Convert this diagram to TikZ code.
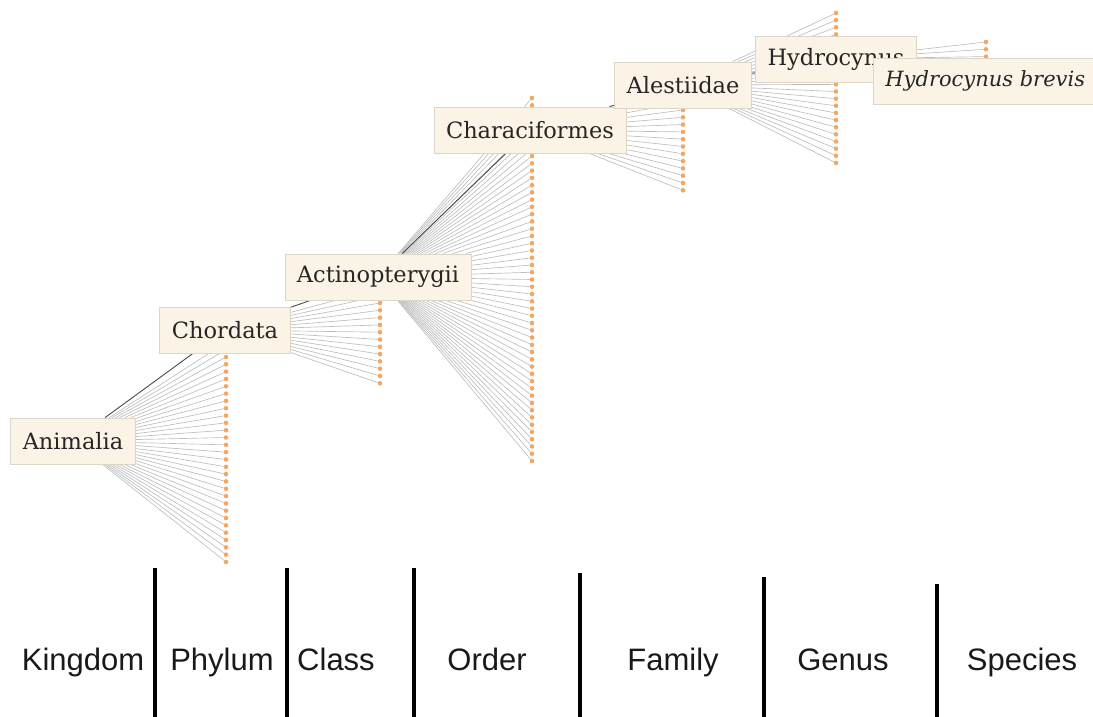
\documentclass[tikz,border=0pt]{standalone}
\usepackage{fontspec}
\setmainfont{DejaVu Serif}
\newfontfamily\rankfont{Liberation Sans}

\definecolor{boxfill}{HTML}{FAF3E6}
\definecolor{boxline}{HTML}{DDD5C6}
\definecolor{dotfill}{HTML}{F4A664}
\definecolor{fanline}{HTML}{BDBDBD}
\definecolor{linkline}{HTML}{4A4A4A}

\pgfdeclarelayer{fan}
\pgfdeclarelayer{tips}
\pgfsetlayers{fan,tips,main}

\tikzset{
  taxon/.style={draw=boxline, fill=boxfill, line width=0.8pt, inner xsep=12pt,
    minimum height=46pt, text=black!85, font=\fontsize{22.5}{26}\selectfont},
  leaf/.style={circle, fill=dotfill, inner sep=0pt, minimum size=4.6pt},
  fanedge/.style={draw=fanline, line width=0.65pt},
  link/.style={draw=linkline, line width=0.9pt},
  divider/.style={line width=4pt, black},
  rank/.style={anchor=base, text=black!90, font=\rankfont\fontsize{31}{34}\selectfont},
}

\begin{document}
\begin{tikzpicture}[x=1pt, y=-1pt]
\useasboundingbox (0,0) rectangle (1093,717);

% taxon labels, later ones stacked over earlier ones
\node[taxon] (animalia) at (73,441)  {Animalia};
\node[taxon] (chordata) at (225,330) {Chordata};
\node[taxon] (actino)   at (378,277) {Actinopterygii};
\node[taxon] (characi)  at (530,130) {Characiformes};
\node[taxon] (alest)    at (683,85)  {Alestiidae};
\node[taxon] (hydro)    at (836,59)  {Hydrocynus};
\node[taxon, anchor=west, font=\itshape\fontsize{21}{24}\selectfont]
  (brevis) at (873,81) {Hydrocynus brevis};

% children of each rank as columns of small dots
\begin{pgfonlayer}{tips}
  \foreach \k in {-2,...,28} \node[leaf] (ka-\k) at (226,{357+7.32*\k}) {};
  \foreach \k in {-2,...,11} \node[leaf] (ph-\k) at (380,{303+7.3*\k}) {};
  \foreach \k in {0,...,50}  \node[leaf] (cl-\k) at (532,{98+7.26*\k}) {};
  \foreach \k in {-3,...,11} \node[leaf] (or-\k) at (683,{110+7.3*\k}) {};
  \foreach \k in {0,...,21}  \node[leaf] (fa-\k) at (836,{13+7.14*\k}) {};
  \foreach \k in {0,...,5}   \node[leaf] (ge-\k) at (986,{42+7.3*\k}) {};
\end{pgfonlayer}

% fans from each parent to its children, and the chosen path
\begin{pgfonlayer}{fan}
  \foreach \k in {-2,...,28} \draw[fanedge] (animalia) -- (ka-\k);
  \foreach \k in {-2,...,11} \draw[fanedge] (chordata) -- (ph-\k);
  \foreach \k in {0,...,50}  \draw[fanedge] (actino) -- (cl-\k);
  \foreach \k in {-3,...,11} \draw[fanedge] (characi) -- (or-\k);
  \foreach \k in {0,...,21}  \draw[fanedge] (alest) -- (fa-\k);
  \foreach \k in {0,...,5}   \draw[fanedge] (hydro) -- (ge-\k);
  \draw[link] (animalia) -- (chordata);
  \draw[link] (chordata) -- (actino);
  \draw[link] (actino) -- (characi);
  \draw[link] (characi) -- (alest);
  \draw[link] (alest) -- (hydro);
  \draw[link] (hydro) -- (brevis);
\end{pgfonlayer}

% rank scale along the bottom
\draw[divider] (155,568) -- (155,717);
\draw[divider] (287,568) -- (287,717);
\draw[divider] (414,568) -- (414,717);
\draw[divider] (580,573) -- (580,717);
\draw[divider] (764,577) -- (764,717);
\draw[divider] (937,584) -- (937,717);

\node[rank] (kingdom) at (83,670)   {Kingdom};
\node[rank] (phylum)  at (222,670)  {Phylum};
\node[rank] (class)   at (336,670)  {Class};
\node[rank] (order)   at (487,670)  {Order};
\node[rank] (family)  at (673,670)  {Family};
\node[rank] (genus)   at (843,670)  {Genus};
\node[rank] (species) at (1022,670) {Species};
\end{tikzpicture}
\end{document}
